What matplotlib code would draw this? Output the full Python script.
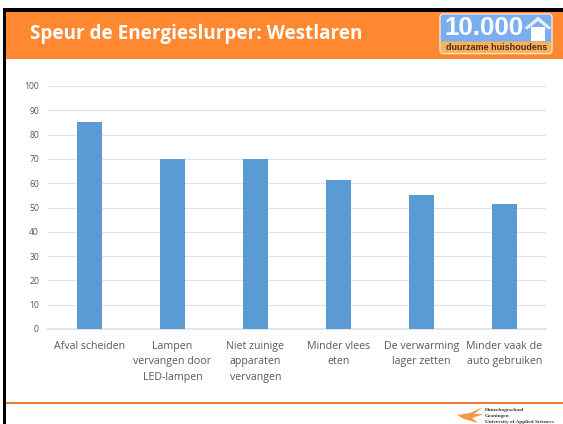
import matplotlib
matplotlib.use("Agg")
from matplotlib import pyplot as plt
from matplotlib.patches import FancyBboxPatch, Polygon, Rectangle

W, H = 563, 424

categories = [
    "Afval scheiden",
    "Lampen\nvervangen door\nLED-lampen",
    "Niet zuinige\napparaten\nvervangen",
    "Minder vlees\neten",
    "De verwarming\nlager zetten",
    "Minder vaak de\nauto gebruiken",
]
values = [85, 70, 70, 61.5, 55, 51.5]
y_ticks = list(range(0, 101, 10))

title = "Speur de Energieslurper: Westlaren"
logo_number = "10.000"
logo_text = "duurzame huishoudens"
school_lines = ["Hanzehogeschool", "Groningen", "University of Applied Sciences"]

plt.rcParams["font.family"] = ["Open Sans", "DejaVu Sans"]

fig = plt.figure(figsize=(W / 100, H / 100), dpi=100)

# Background layer in pixel coordinates
bg = fig.add_axes([0, 0, 1, 1])
bg.set_xlim(0, W)
bg.set_ylim(H, 0)
bg.axis("off")

bg.add_patch(Rectangle((3, 8), W - 3, 3.5, color="black", lw=0))
bg.add_patch(Rectangle((3, 8), 3, H - 8, color="black", lw=0))
bg.add_patch(Rectangle((6, 11.5), W - 6, 47.5, color="#ff8830", lw=0))
bg.text(30, 34, title, color="white", fontsize=13.6, fontweight="bold", va="center", ha="left")

# Logo
bg.add_patch(FancyBboxPatch((440, 14), 112, 39.5, boxstyle="round,pad=0,rounding_size=3",
                            fc="#7aaef0", ec="#fbe6cf", lw=1))
bg.add_patch(FancyBboxPatch((441, 41.5), 110, 11.5, boxstyle="round,pad=0,rounding_size=2",
                            fc="#fbb25a", ec="none"))
bg.text(444, 28, logo_number, color="white", fontsize=18.6, fontweight="bold",
        family="Liberation Sans", va="center", ha="left")
bg.add_patch(Polygon([(524.5, 28), (538, 16.5), (551.5, 28), (548.5, 29.5), (538, 21), (527.5, 29.5)],
                     closed=True, fc="#e8eef5", ec="none"))
bg.add_patch(Rectangle((531, 27), 14, 13.5, color="white", lw=0))
bg.text(496.5, 47, logo_text, color="#4a3018", fontsize=6.5, fontweight="bold",
        family="Liberation Sans", va="center", ha="center")

# Footer
bg.add_patch(Rectangle((6, 402), W - 6, 2.2, color="#ee7a35", lw=0))
bg.add_patch(Polygon([(457, 415), (470, 413), (483, 407), (474, 414), (484, 414),
                      (472, 418), (478, 423), (464, 419)],
                     closed=True, fc="#f09a45", ec="none"))
for line, y in zip(school_lines, [410.5, 416.5, 422]):
    bg.text(485, y, line, color="#333333", fontsize=3.8, fontweight="bold",
            family="Liberation Serif", va="center", ha="left")

# Chart, axes box placed on the pixel positions of the plot area
left, right, top, bottom = 48, 546, 86, 329
ax = fig.add_axes([left / W, 1 - bottom / H, (right - left) / W, (bottom - top) / H])
ax.patch.set_alpha(0)
x = list(range(len(categories)))
ax.bar(x, values, width=0.31, color="#5b9bd5", zorder=3)
ax.set_xlim(-0.5, 5.5)
ax.set_ylim(0, 100)
ax.set_yticks(y_ticks)
ax.set_xticks(x)
ax.set_xticklabels(categories, fontsize=7.7, color="#595959", linespacing=1.58)
ax.grid(axis="y", color="#e2e2e2", lw=0.8, zorder=0)
ax.tick_params(axis="both", length=0)
ax.tick_params(axis="y", labelsize=6.2, labelcolor="#595959", pad=6.5)
ax.tick_params(axis="x", pad=8.5)
for side in ["top", "right", "left"]:
    ax.spines[side].set_visible(False)
ax.spines["bottom"].set_color("#e2e2e2")
ax.spines["bottom"].set_linewidth(1.3)

fig.savefig("out.png", dpi=100)
